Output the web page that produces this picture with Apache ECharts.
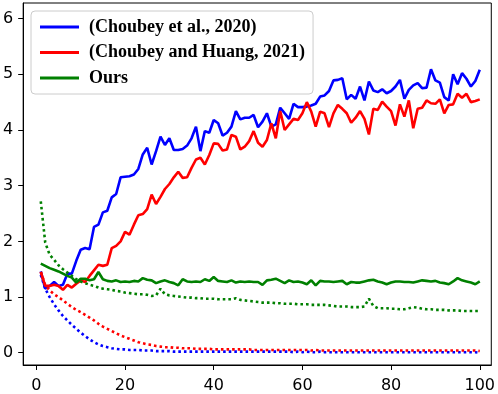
<!DOCTYPE html>
<html>
  <head>
    <meta charset="utf-8" />
    <title>ECharts</title>
    <script src="https://cdn.jsdelivr.net/npm/echarts@6/dist/echarts.min.js"></script>
  </head>
  <body style="margin:0">
    <div id="chart" style="width: 498px; height: 394px"></div>
    <script type="text/javascript">
      // epochs 1..100
      var names = ["(Choubey et al., 2020)", "(Choubey and Huang, 2021)", "Ours"];
      var xTicks = [0, 20, 40, 60, 80, 100];
      var yTicks = [0, 1, 2, 3, 4, 5, 6];

      var blueSolid = [
        1.46, 1.15, 1.2, 1.27, 1.2, 1.22, 1.42, 1.42, 1.65, 1.85,
        1.88, 1.86, 2.26, 2.3, 2.52, 2.55, 2.79, 2.85, 3.15, 3.16,
        3.17, 3.2, 3.3, 3.56, 3.68, 3.38, 3.62, 3.88, 3.73, 3.85,
        3.64, 3.64, 3.66, 3.72, 3.85, 4.06, 3.62, 3.98, 3.95, 4.18,
        4.12, 3.9, 3.95, 4.06, 4.34, 4.19, 4.22, 4.22, 4.27, 4.05,
        4.15, 4.3, 4.06, 4.1, 4.4, 4.3, 4.2, 4.47, 4.41, 4.41,
        4.42, 4.44, 4.47, 4.6, 4.62, 4.7, 4.89, 4.9, 4.93, 4.55,
        4.63, 4.56, 4.78, 4.53, 4.87, 4.71, 4.68, 4.73, 4.66, 4.7,
        4.78, 4.9, 4.56, 4.72, 4.8, 4.84, 4.75, 4.76, 5.09, 4.89,
        4.85, 4.59, 4.53, 5.0, 4.82, 5.02, 4.92, 4.78, 4.88, 5.08
      ];
      var redSolid = [
        1.45, 1.2, 1.2, 1.22, 1.2, 1.13, 1.22, 1.17, 1.24, 1.3,
        1.27, 1.38, 1.48, 1.58, 1.56, 1.58, 1.88, 1.92, 2.0, 2.17,
        2.12, 2.3, 2.47, 2.49, 2.58, 2.84, 2.67, 2.8, 2.94, 3.03,
        3.15, 3.25, 3.14, 3.15, 3.32, 3.47, 3.5, 3.38, 3.55, 3.76,
        3.75, 3.63, 3.65, 3.91, 3.88, 3.65, 3.7, 3.8, 3.98, 3.77,
        3.7, 3.82, 4.12, 3.85, 4.34, 4.0, 4.1, 4.2, 4.18, 4.3,
        4.5, 4.33, 4.06, 4.33, 4.3, 4.05, 4.3, 4.45, 4.38, 4.3,
        4.13, 4.22, 4.34, 4.2, 3.92, 4.38, 4.36, 4.51, 4.42, 4.34,
        4.08, 4.46, 4.24, 4.53, 4.03, 4.38, 4.4, 4.53, 4.48, 4.47,
        4.55, 4.3, 4.45, 4.46, 4.65, 4.58, 4.65, 4.5, 4.52, 4.55
      ];
      var greenSolid = [
        1.6, 1.56, 1.52, 1.49, 1.46, 1.42, 1.38, 1.35, 1.26, 1.33,
        1.33, 1.3, 1.32, 1.45, 1.32, 1.29, 1.28, 1.3, 1.27, 1.28,
        1.27, 1.29, 1.28, 1.34, 1.31, 1.3, 1.25, 1.28, 1.3, 1.27,
        1.25, 1.21, 1.32, 1.28, 1.27, 1.28, 1.27, 1.32, 1.29, 1.36,
        1.29, 1.28, 1.27, 1.3, 1.26, 1.28, 1.27, 1.28, 1.27, 1.27,
        1.22, 1.3, 1.31, 1.33, 1.29, 1.25, 1.3, 1.27, 1.28, 1.26,
        1.23, 1.3, 1.21, 1.29, 1.28, 1.28, 1.27, 1.28, 1.29, 1.23,
        1.27, 1.26, 1.26, 1.28, 1.3, 1.31, 1.28, 1.26, 1.23, 1.26,
        1.28, 1.28, 1.27, 1.27, 1.26, 1.28, 1.3, 1.29, 1.28, 1.29,
        1.26, 1.25, 1.23, 1.28, 1.34, 1.3, 1.28, 1.26, 1.23, 1.28
      ];
      var blueDotted = [
        1.4, 1.15, 1.0, 0.87, 0.76, 0.66, 0.58, 0.5, 0.43, 0.36,
        0.3, 0.24, 0.19, 0.15, 0.12, 0.1, 0.08, 0.07, 0.06, 0.06,
        0.05, 0.05, 0.05, 0.04, 0.04, 0.04, 0.03, 0.03, 0.03, 0.03,
        0.02, 0.02, 0.02, 0.02, 0.02, 0.02, 0.02, 0.02, 0.02, 0.02,
        0.02, 0.02, 0.02, 0.02, 0.02, 0.02, 0.02, 0.02, 0.02, 0.02,
        0.02, 0.02, 0.02, 0.02, 0.02, 0.02, 0.02, 0.01, 0.02, 0.01,
        0.02, 0.01, 0.01, 0.02, 0.01, 0.01, 0.01, 0.01, 0.01, 0.01,
        0.01, 0.01, 0.01, 0.01, 0.01, 0.01, 0.01, 0.01, 0.01, 0.01,
        0.01, 0.01, 0.01, 0.01, 0.01, 0.01, 0.01, 0.01, 0.01, 0.01,
        0.01, 0.01, 0.01, 0.01, 0.01, 0.01, 0.01, 0.01, 0.01, 0.0
      ];
      var redDotted = [
        1.45, 1.22, 1.12, 1.05, 1.0, 0.94, 0.88, 0.82, 0.77, 0.73,
        0.68, 0.63, 0.58, 0.52, 0.47, 0.43, 0.39, 0.35, 0.31, 0.28,
        0.25, 0.22, 0.19, 0.17, 0.15, 0.14, 0.12, 0.11, 0.1, 0.1,
        0.09, 0.09, 0.08, 0.08, 0.08, 0.07, 0.07, 0.07, 0.07, 0.06,
        0.06, 0.06, 0.06, 0.06, 0.06, 0.06, 0.06, 0.06, 0.05, 0.05,
        0.05, 0.05, 0.05, 0.05, 0.05, 0.05, 0.05, 0.05, 0.05, 0.05,
        0.05, 0.04, 0.05, 0.04, 0.04, 0.04, 0.04, 0.04, 0.04, 0.04,
        0.04, 0.04, 0.04, 0.04, 0.04, 0.04, 0.04, 0.04, 0.04, 0.04,
        0.04, 0.04, 0.04, 0.04, 0.04, 0.04, 0.04, 0.04, 0.04, 0.04,
        0.04, 0.04, 0.04, 0.04, 0.04, 0.04, 0.04, 0.04, 0.04, 0.03
      ];
      var greenDotted = [
        2.72, 1.98, 1.76, 1.67, 1.57, 1.5, 1.44, 1.38, 1.32, 1.28,
        1.25, 1.22, 1.2, 1.17, 1.15, 1.14, 1.13, 1.11, 1.1, 1.08,
        1.07, 1.06, 1.05, 1.05, 1.04, 1.02, 1.03, 1.15, 1.05, 1.03,
        1.02, 1.01, 1.0, 0.99, 0.99, 0.98, 0.98, 0.97, 0.97, 0.97,
        0.96, 0.96, 0.96, 0.96, 0.98, 0.95, 0.94, 0.93, 0.92, 0.91,
        0.9, 0.9, 0.9, 0.89, 0.89, 0.88, 0.88, 0.88, 0.87, 0.87,
        0.87, 0.86, 0.86, 0.86, 0.86, 0.85, 0.84, 0.83, 0.83, 0.83,
        0.82, 0.82, 0.82, 0.83, 0.97, 0.84, 0.8, 0.8, 0.8, 0.79,
        0.79, 0.78, 0.78, 0.8, 0.82, 0.81, 0.79, 0.78, 0.78, 0.77,
        0.77, 0.77, 0.76, 0.76, 0.76, 0.75, 0.75, 0.75, 0.75, 0.75
      ];

      function pairs(arr) {
        return arr.map(function (v, i) { return [i + 1, v]; });
      }
      function solid(name, color, arr) {
        return { name: name, type: "line", data: pairs(arr), showSymbol: false,
          lineStyle: { color: color, width: 2.6 }, itemStyle: { color: color } };
      }
      function dotted(name, color, arr) {
        return { name: name, type: "line", data: pairs(arr), showSymbol: false,
          lineStyle: { color: color, width: 2.6, type: [2.6, 3] }, itemStyle: { color: color } };
      }

      var chart = echarts.init(document.getElementById("chart"));
      var option = {
        animation: false,
        backgroundColor: "#fff",
        grid: { left: 22, right: 6, top: 3, bottom: 24, show: true, borderColor: "#000", borderWidth: 1 },
        legend: {
          data: names,
          orient: "vertical",
          left: 31, top: 11,
          padding: [6, 8, 6, 9],
          itemWidth: 39, itemHeight: 3, itemGap: 5.5,
          icon: "rect",
          backgroundColor: "rgba(255,255,255,0.8)",
          borderColor: "#ccc", borderWidth: 1, borderRadius: 4,
          textStyle: { fontFamily: "Liberation Serif", fontWeight: "bold", fontSize: 18,
            color: "#000", lineHeight: 20, padding: [0, 0, 0, 5] }
        },
        xAxis: {
          type: "value", min: -2.97, max: 102.6,
          splitLine: { show: false },
          axisLine: { show: true, onZero: false, lineStyle: { color: "#000" } },
          axisTick: { show: true, length: 5, customValues: xTicks, lineStyle: { color: "#000" } },
          axisLabel: { customValues: xTicks, margin: 13, fontFamily: "DejaVu Sans", fontSize: 16, color: "#000" }
        },
        yAxis: {
          type: "value", min: -0.22, max: 6.28,
          splitLine: { show: false },
          axisLine: { show: true, onZero: false, lineStyle: { color: "#000" } },
          axisTick: { show: true, length: 5, customValues: yTicks, lineStyle: { color: "#000" } },
          axisLabel: { customValues: yTicks, margin: 10, fontFamily: "DejaVu Sans", fontSize: 16, color: "#000" }
        },
        series: [
          solid(names[0], "#0000ff", blueSolid),
          dotted("blue dotted", "#0000ff", blueDotted),
          solid(names[1], "#ff0000", redSolid),
          dotted("red dotted", "#ff0000", redDotted),
          solid(names[2], "#008000", greenSolid),
          dotted("green dotted", "#008000", greenDotted)
        ]
      };
      chart.setOption(option);
    </script>
  </body>
</html>
